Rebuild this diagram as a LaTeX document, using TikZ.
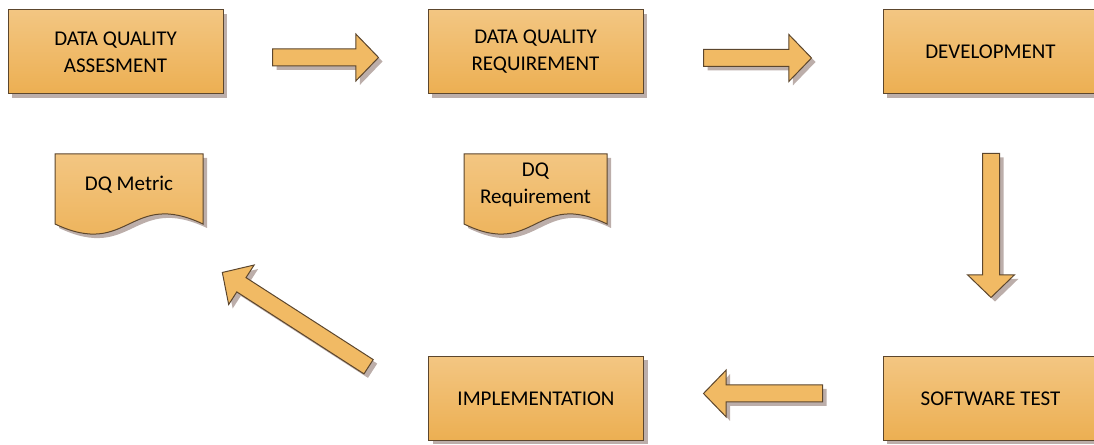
\documentclass[tikz,border=0pt]{standalone}
\usepackage{fontspec}
\setmainfont{Carlito}
\usetikzlibrary{shapes.arrows,shadows}
\definecolor{boxtop}{RGB}{243,198,130}
\definecolor{boxbottom}{RGB}{236,175,82}
\definecolor{arrowfill}{RGB}{241,186,100}
\definecolor{edgebrown}{RGB}{92,70,45}
\definecolor{shadowgrey}{RGB}{188,174,170}
\tikzset{
  boxshadow/.style={drop shadow={shadow xshift=2pt,shadow yshift=-2pt,fill=shadowgrey,opacity=1}},
  stage/.style={draw=edgebrown,line width=0.5pt,top color=boxtop,bottom color=boxbottom,
    minimum width=107.5pt,minimum height=42pt,align=center,
    font=\fontsize{10.5}{13.5}\selectfont,boxshadow},
  docshape/.style={draw=edgebrown,line width=0.5pt,top color=boxtop,bottom color=boxbottom,boxshadow},
  doclabel/.style={align=center,font=\fontsize{10.5}{13.5}\selectfont},
  blockarrow/.style={single arrow,draw=edgebrown,line width=0.5pt,fill=arrowfill,
    inner xsep=0pt,inner ysep=4pt,single arrow head extend=7.5pt,
    single arrow tip angle=92,anchor=tail,boxshadow}
}
\begin{document}
\begin{tikzpicture}[x=0.5pt,y=0.5pt]
	\useasboundingbox (0,0) rectangle (1094,445);
	% stages
	\node[stage] (dqa) at (115.5,393) {DATA QUALITY\\ASSESMENT};
	\node[stage] (dqreq) at (535.5,393) {DATA QUALITY\\REQUIREMENT};
	\node[stage] (dev) at (990.5,393) {DEVELOPMENT};
	\node[stage] (swtest) at (990.5,46.5) {SOFTWARE TEST};
	\node[stage] (impl) at (536,46.5) {IMPLEMENTATION};
	% documents
	\draw[docshape] (55,291) -- (203,291) -- (203,221) .. controls (129,256) and (129,186) .. (55,221) -- cycle;
	\draw[docshape] (464,291) -- (607,291) -- (607,221) .. controls (535.5,256) and (535.5,186) .. (464,221) -- cycle;
	\node[doclabel] (dqm) at (129,260.5) {DQ Metric};
	\node[doclabel] (dqr) at (535.5,260.5) {DQ\\Requirement};
	% block arrows
	\node[blockarrow,minimum height=53pt] (ar1) at (272,387.5) {};
	\node[blockarrow,minimum height=54pt] (ar2) at (703,387) {};
	\node[blockarrow,minimum height=72pt,rotate=-90] (ar3) at (991,292) {};
	\node[blockarrow,minimum height=59.5pt,rotate=180] (ar4) at (823,51.5) {};
	\node[blockarrow,minimum height=87pt,rotate=147.2] (ar5) at (369,78) {};
\end{tikzpicture}
\end{document}
